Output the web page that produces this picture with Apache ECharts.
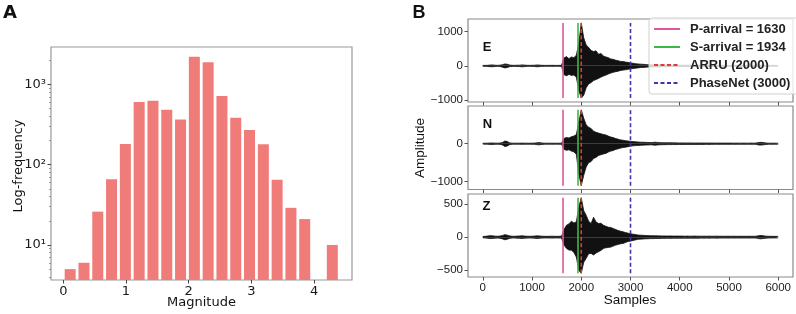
<!DOCTYPE html>
<html>
<head>
<meta charset="utf-8">
<script src="https://cdn.jsdelivr.net/npm/echarts@6/dist/echarts.min.js"></script>
<style>
html, body { margin: 0; padding: 0; background: #fff; }
#chart { width: 796px; height: 314px; }
</style>
</head>
<body>
<div id="chart"></div>
<script>
// ---- panel A: magnitude histogram (log counts) ----
var magCenters = [0.11, 0.33, 0.55, 0.77, 0.99, 1.21, 1.43, 1.65, 1.87, 2.09,
                  2.31, 2.53, 2.75, 2.97, 3.19, 3.41, 3.63, 3.85, 4.07, 4.29];
var magCounts = [5, 6, 26, 66, 181, 603, 625, 483, 366, 2208,
                 1880, 714, 385, 270, 179, 65, 29, 21, 0, 10];
var magTicks = [0, 1, 2, 3, 4];
var logTicks = [10, 100, 1000];
var logMinorTicks = [4, 5, 6, 7, 8, 9, 20, 30, 40, 50, 60, 70, 80, 90,
                     200, 300, 400, 500, 600, 700, 800, 900, 2000];

// ---- panel B: waveform envelopes, one value every 50 samples (0..6000) ----
var sampleStep = 50;
var eUp = [12,14,15,25,28,18,15,20,35,55, 45,22,16,15,18,20,28,22,15,14,
  15,18,26,22,15,14,13,14,15,14, 13,14,15,230,270,210,260,240,310,650,
  1257,820,610,540,450,420,440,340,360,290, 260,240,200,190,165,150,130,125,110,100,
  85,75,65,55,50,45,40,35,32,30, 30,35,28,26,25,24,25,22,22,20,
  21,20,19,20,18,19,18,18,17,18, 17,16,17,16,16,15,16,15,15,16,
  15,14,15,14,15,14,14,15,14,14, 15,18,20,18,16,14,14,13,14,13, 12];
var eLow = [12,14,16,24,26,18,15,20,38,60, 48,22,16,15,18,21,30,22,15,14,
  15,18,28,22,15,14,13,14,15,14, 13,14,15,260,290,250,280,270,330,720,
  944,860,640,530,490,430,400,370,330,300, 270,240,210,190,170,155,135,125,115,100,
  90,80,70,60,52,46,42,36,33,31, 30,34,28,26,25,25,24,22,21,21,
  20,20,19,19,19,18,18,17,18,17, 17,16,16,16,15,16,15,15,16,15,
  15,15,14,15,14,14,15,14,14,14, 16,19,21,18,15,14,13,14,13,13, 12];
var nUp = [10,12,14,18,20,15,14,16,30,72, 55,20,14,13,14,15,16,14,13,13,
  14,16,22,30,18,14,13,13,14,13, 12,13,14,140,165,150,185,200,240,560,
  892,670,500,430,400,330,300,280,260,245, 230,200,175,160,135,118,100,90,80,70,
  60,55,50,45,40,38,35,33,30,32, 40,32,28,26,25,24,24,22,22,21,
  20,21,20,19,20,19,18,19,18,18, 18,17,18,17,17,16,17,16,16,17,
  16,16,15,16,15,15,16,15,15,16, 15,16,32,36,30,18,15,14,14,13, 12];
var nLow = [10,12,14,18,20,15,14,16,32,75, 58,20,14,13,14,15,16,14,13,13,
  14,16,24,30,18,14,13,13,14,13, 12,13,14,150,175,160,195,215,280,800,
  1105,830,610,500,470,390,360,310,290,270, 255,220,195,180,150,135,115,100,92,78,
  62,56,50,46,42,38,35,33,30,32, 40,32,28,26,25,24,24,22,22,21,
  20,21,20,19,20,19,18,19,18,18, 18,17,18,17,17,16,17,16,16,17,
  16,16,15,16,15,15,16,15,15,16, 15,16,34,36,30,18,15,14,14,13, 12];
var zUp = [10,12,18,22,20,15,14,16,25,38, 30,18,14,13,16,18,20,16,14,13,
  14,16,20,18,14,13,12,13,14,13, 12,13,14,115,180,200,240,215,230,450,
  594,400,330,240,206,300,230,206,210,180, 165,150,146,130,115,100,90,80,70,60,
  52,45,40,32,30,28,25,24,22,22, 20,20,19,18,18,17,18,17,16,17,
  16,16,15,16,15,15,16,15,15,14, 15,14,15,14,14,15,14,14,13,14,
  14,13,14,13,13,14,13,13,14,13, 13,14,22,25,20,15,13,13,12,12, 11];
var zLow = [10,12,17,21,20,15,14,16,26,40, 30,18,14,13,16,18,20,16,14,13,
  14,16,20,18,14,13,12,13,14,13, 12,13,14,120,170,195,196,230,300,500,
  544,380,320,250,246,270,240,220,200,170, 160,155,150,135,120,110,100,95,80,65,
  60,50,42,32,30,28,25,24,22,22, 20,20,19,18,18,17,18,17,16,17,
  16,16,15,16,15,15,16,15,15,14, 15,14,15,14,14,15,14,14,13,14,
  14,13,14,13,13,14,13,13,14,13, 13,14,22,25,20,15,13,13,12,12, 11];

var sampleTicks = [0, 1000, 2000, 3000, 4000, 5000, 6000];
var eTicks = [-1000, 0, 1000];
var nTicks = [-1000, 0];
var zTicks = [-500, 0, 500];

// picks
var pickNames = ['P-arrival = 1630', 'S-arrival = 1934', 'ARRU (2000)', 'PhaseNet (3000)'];
var pickSamples = [1630, 1934, 2000, 3000];
var pickColors = ['#e0559f', '#3cb84a', '#e8372e', '#3f34a8'];
var pickDashed = [false, false, true, true];
// data min / max of each trace (picks are drawn over this span)
var eSpan = [-944, 1257];
var nSpan = [-1105, 892];
var zSpan = [-544, 594];

var sup = {1: '\u00b9', 2: '\u00b2', 3: '\u00b3'};
var fontA = 'DejaVu Sans';
var fontB = 'Liberation Sans';
var frameA = '#999';
var frameB = '#8a8a8a';

function envelope(vals, sign) {
  return vals.map(function (v, i) { return [i * sampleStep, sign * v]; });
}

var chart = echarts.init(document.getElementById('chart'), null, {renderer: 'canvas'});

var grids = [
  {left: 51, top: 47, width: 301, height: 233},
  {left: 468, top: 19, width: 325, height: 83},
  {left: 468, top: 106, width: 325, height: 83.5},
  {left: 468, top: 194, width: 325, height: 83}
];
grids.forEach(function (g, i) {
  g.show = true;
  g.borderColor = i === 0 ? frameA : frameB;
  g.borderWidth = 1.2;
  g.backgroundColor = 'transparent';
});

function sampleAxis(gi, showLabels) {
  return {
    type: 'value', gridIndex: gi, min: -300, max: 6300,
    axisLine: {show: false, onZero: false},
    splitLine: {show: false},
    axisTick: {show: true, length: 3.5, customValues: sampleTicks, lineStyle: {color: '#555', width: 1}},
    axisLabel: {show: showLabels, customValues: sampleTicks, margin: 5,
      fontFamily: fontB, fontSize: 11.5, color: '#222',
      formatter: function (v) { return String(v); }}
  };
}
function ampAxis(gi, mn, mx, ticks) {
  return {
    type: 'value', gridIndex: gi, min: mn, max: mx,
    axisLine: {show: false, onZero: false},
    splitLine: {show: false},
    axisTick: {show: true, length: 3.5, customValues: ticks, lineStyle: {color: '#555', width: 1}},
    axisLabel: {customValues: ticks, margin: 5, fontFamily: fontB, fontSize: 11.5, color: '#222',
      formatter: function (v) { return v < 0 ? '\u2212' + Math.abs(v) : String(v); }}
  };
}

var xAxes = [
  {
    type: 'value', gridIndex: 0, min: -0.196, max: 4.604,
    axisLine: {show: false, onZero: false},
    splitLine: {show: false},
    axisTick: {show: true, length: 3.5, customValues: magTicks, lineStyle: {color: '#444'}},
    axisLabel: {customValues: magTicks, margin: 5, fontFamily: fontA, fontSize: 13, color: '#1a1a1a'}
  },
  sampleAxis(1, false), sampleAxis(2, false), sampleAxis(3, true)
];
var yAxes = [
  {
    type: 'log', gridIndex: 0, min: 3.66, max: 2920, logBase: 10,
    axisLine: {show: false, onZero: false},
    splitLine: {show: false},
    axisTick: {show: true, length: 3.5, customValues: logTicks, lineStyle: {color: '#444'}},
    axisLabel: {customValues: logTicks, margin: 5, fontFamily: fontA, fontSize: 13, color: '#1a1a1a',
      formatter: function (v) { return '10' + sup[Math.round(Math.log10(v))]; }}
  },
  {
    type: 'log', gridIndex: 0, min: 3.66, max: 2920, logBase: 10, position: 'left',
    axisLine: {show: false, onZero: false},
    splitLine: {show: false},
    axisTick: {show: true, length: 2, customValues: logMinorTicks, lineStyle: {color: '#888', width: 0.8}},
    axisLabel: {show: false}
  },
  ampAxis(1, -1058, 1371, eTicks),
  ampAxis(2, -1205, 992, nTicks),
  ampAxis(3, -601, 651, zTicks)
];

var series = [{
  type: 'bar',
  xAxisIndex: 0, yAxisIndex: 0,
  barWidth: 11,
  data: magCenters.map(function (m, i) { return [m, magCounts[i] > 0 ? magCounts[i] : '-']; }),
  itemStyle: {color: '#f07c79'},
  silent: true
}];

var traces = [[eUp, eLow, eSpan], [nUp, nLow, nSpan], [zUp, zLow, zSpan]];
traces.forEach(function (t, k) {
  [[t[0], 1], [t[1], -1]].forEach(function (half) {
    series.push({
      type: 'line', xAxisIndex: k + 1, yAxisIndex: k + 2,
      data: envelope(half[0], half[1]),
      symbol: 'none',
      lineStyle: {color: '#111', width: 0.8},
      areaStyle: {color: '#111', opacity: 1},
      z: 2, silent: true
    });
  });
  pickSamples.forEach(function (s, j) {
    series.push({
      type: 'line', name: pickNames[j], xAxisIndex: k + 1, yAxisIndex: k + 2,
      data: [[s, t[2][0]], [s, t[2][1]]],
      symbol: 'none',
      lineStyle: {color: pickColors[j], width: 1.6, type: pickDashed[j] ? [4, 2.5] : 'solid'},
      itemStyle: {color: pickColors[j]},
      z: 3, silent: true
    });
  });
});

var txt = function (text, x, y, size, weight, family, rot) {
  return {
    type: 'text', x: x, y: y, rotation: rot || 0,
    style: {text: text, fontSize: size, fontWeight: weight, fontFamily: family,
      fill: '#111', align: 'center', verticalAlign: 'middle'}
  };
};

chart.setOption({
  animation: false,
  backgroundColor: '#fff',
  grid: grids,
  xAxis: xAxes,
  yAxis: yAxes,
  legend: {
    data: pickNames,
    orient: 'vertical',
    left: 649, top: 18,
    padding: [4, 8, 4, 4],
    itemWidth: 26, itemHeight: 10, itemGap: 4,
    selectedMode: false,
    itemStyle: {opacity: 0},
    backgroundColor: 'rgba(255,255,255,0.8)',
    borderColor: '#d0d0d0', borderWidth: 1, borderRadius: 3,
    textStyle: {fontFamily: fontB, fontSize: 13, fontWeight: 'bold', color: '#222',
      lineHeight: 14, padding: [0, 0, 0, 5]}
  },
  graphic: [
    txt('A', 10, 13, 18, 'bold', fontA),
    txt('B', 419, 13, 18, 'bold', fontB),
    txt('Log-frequency', 18.5, 166, 13, 'normal', fontA, Math.PI / 2),
    txt('Magnitude', 201.5, 303, 13, 'normal', fontA),
    txt('Amplitude', 420, 148, 13.5, 'normal', fontB, Math.PI / 2),
    txt('Samples', 630, 300.5, 13.5, 'normal', fontB),
    txt('E', 487, 47.5, 13, 'bold', fontB),
    txt('N', 487.5, 124, 13, 'bold', fontB),
    txt('Z', 486.5, 206.5, 13, 'bold', fontB)
  ],
  series: series
});
</script>
</body>
</html>
